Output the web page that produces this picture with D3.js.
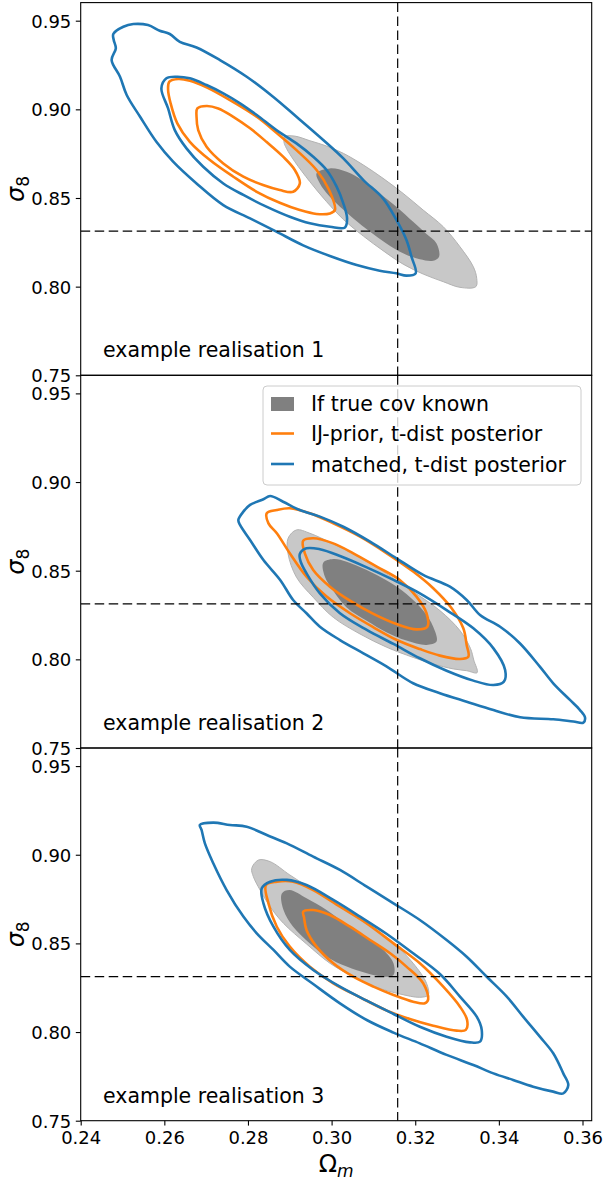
<!DOCTYPE html>
<html><head><meta charset="utf-8">
<script src="https://cdn.jsdelivr.net/npm/d3@7"></script>
<style>body{margin:0;background:#fff;} text{font-family:"DejaVu Sans",sans-serif;fill:#000;}</style>
</head><body><svg id="c" width="604" height="1183"></svg>
<script>
// ---------- data ----------
const xTicks = [0.24, 0.26, 0.28, 0.30, 0.32, 0.34, 0.36];
const yTicks = [0.75, 0.80, 0.85, 0.90, 0.95];
const xDomain = [0.24, 0.3622];
const yDomain = [0.75, 0.9602];
const omegaTrue = 0.3158;
const sigma8True = 0.8313;
const panelLabels = ["example realisation 1", "example realisation 2", "example realisation 3"];
const legendLabels = ["If true cov known", "IJ-prior, t-dist posterior", "matched, t-dist posterior"];

// realisation 1
const known95_1 = [[0.2888,0.8846],[0.2912,0.8849],[0.2948,0.8823],[0.2988,0.8793],[0.3028,0.8752],[0.3076,0.8686],[0.3123,0.8611],[0.3171,0.8526],[0.3219,0.8432],[0.3267,0.8338],[0.3307,0.8225],[0.3339,0.8112],[0.3347,0.8047],[0.3345,0.8000],[0.3307,0.7996],[0.3267,0.8028],[0.3219,0.8071],[0.3171,0.8127],[0.3123,0.8203],[0.3076,0.8285],[0.3028,0.8379],[0.2988,0.8479],[0.2948,0.8592],[0.2912,0.8705],[0.2892,0.8780],[0.2886,0.8817]];
const known68_1 = [[0.2964,0.8639],[0.2996,0.8667],[0.3036,0.8648],[0.3076,0.8597],[0.3115,0.8526],[0.3155,0.8451],[0.3195,0.8366],[0.3227,0.8297],[0.3251,0.8244],[0.3257,0.8169],[0.3243,0.8146],[0.3211,0.8154],[0.3171,0.8188],[0.3131,0.8244],[0.3092,0.8310],[0.3052,0.8385],[0.3020,0.8451],[0.2992,0.8517],[0.2972,0.8582]];
const ij95_1 = [[0.2612,0.9156],[0.2633,0.9171],[0.2661,0.9161],[0.2701,0.9124],[0.2757,0.9052],[0.2821,0.8958],[0.2868,0.8868],[0.2916,0.8770],[0.2964,0.8658],[0.2994,0.8545],[0.3008,0.8432],[0.2996,0.8413],[0.2964,0.8410],[0.2924,0.8432],[0.2876,0.8473],[0.2821,0.8535],[0.2765,0.8620],[0.2709,0.8714],[0.2661,0.8817],[0.2631,0.8921],[0.2615,0.9034],[0.2609,0.9109]];
const ij68_1 = [[0.2679,0.9005],[0.2701,0.9019],[0.2729,0.9005],[0.2765,0.8958],[0.2805,0.8893],[0.2844,0.8817],[0.2884,0.8733],[0.2912,0.8658],[0.2924,0.8582],[0.2908,0.8535],[0.2876,0.8545],[0.2836,0.8573],[0.2789,0.8620],[0.2741,0.8695],[0.2701,0.8789],[0.2681,0.8883],[0.2677,0.8958]];
const matched95_1 = [[0.2478,0.9425],[0.2502,0.9466],[0.2526,0.9481],[0.2561,0.9475],[0.2589,0.9443],[0.2613,0.9425],[0.2637,0.9381],[0.2677,0.9349],[0.2733,0.9278],[0.2797,0.9184],[0.2860,0.9071],[0.2916,0.8958],[0.2980,0.8827],[0.3028,0.8723],[0.3076,0.8601],[0.3123,0.8498],[0.3155,0.8376],[0.3179,0.8263],[0.3191,0.8169],[0.3201,0.8075],[0.3179,0.8062],[0.3155,0.8075],[0.3115,0.8090],[0.3060,0.8122],[0.2996,0.8173],[0.2932,0.8233],[0.2868,0.8310],[0.2805,0.8385],[0.2741,0.8460],[0.2677,0.8582],[0.2621,0.8705],[0.2581,0.8817],[0.2542,0.8958],[0.2510,0.9081],[0.2494,0.9184],[0.2474,0.9278],[0.2484,0.9344],[0.2479,0.9391]];
const matched68_1 = [[0.2605,0.9175],[0.2629,0.9184],[0.2661,0.9175],[0.2701,0.9137],[0.2741,0.9090],[0.2781,0.9034],[0.2821,0.8968],[0.2868,0.8883],[0.2916,0.8808],[0.2956,0.8733],[0.2988,0.8658],[0.3012,0.8564],[0.3028,0.8470],[0.3037,0.8385],[0.3032,0.8334],[0.2996,0.8338],[0.2948,0.8357],[0.2900,0.8394],[0.2844,0.8451],[0.2789,0.8517],[0.2741,0.8582],[0.2693,0.8676],[0.2653,0.8780],[0.2625,0.8883],[0.2609,0.9005],[0.2593,0.9118]];

// realisation 2
const known95_2 = [[0.2896,0.8683],[0.2916,0.8730],[0.2948,0.8711],[0.3004,0.8651],[0.3068,0.8575],[0.3132,0.8482],[0.3195,0.8382],[0.3259,0.8275],[0.3307,0.8162],[0.3332,0.8062],[0.3340,0.7996],[0.3348,0.7925],[0.3323,0.7936],[0.3291,0.7946],[0.3243,0.7974],[0.3195,0.8011],[0.3132,0.8068],[0.3068,0.8143],[0.3004,0.8237],[0.2956,0.8350],[0.2916,0.8463],[0.2896,0.8594]];
const known68_2 = [[0.2980,0.8545],[0.3004,0.8566],[0.3036,0.8551],[0.3084,0.8504],[0.3132,0.8444],[0.3179,0.8369],[0.3219,0.8275],[0.3243,0.8184],[0.3251,0.8100],[0.3227,0.8081],[0.3179,0.8106],[0.3132,0.8152],[0.3084,0.8218],[0.3036,0.8293],[0.3004,0.8387],[0.2984,0.8466]];
const ij95_2 = [[0.2845,0.8824],[0.2869,0.8842],[0.2900,0.8852],[0.2948,0.8824],[0.3004,0.8767],[0.3068,0.8692],[0.3132,0.8598],[0.3195,0.8495],[0.3243,0.8401],[0.3287,0.8288],[0.3315,0.8175],[0.3323,0.8081],[0.3327,0.8015],[0.3307,0.8002],[0.3259,0.8021],[0.3211,0.8058],[0.3156,0.8109],[0.3100,0.8181],[0.3044,0.8260],[0.2988,0.8354],[0.2940,0.8466],[0.2900,0.8598],[0.2869,0.8711],[0.2849,0.8767]];
const ij68_2 = [[0.2932,0.8669],[0.2956,0.8683],[0.3004,0.8654],[0.3052,0.8598],[0.3108,0.8523],[0.3163,0.8448],[0.3203,0.8354],[0.3227,0.8260],[0.3229,0.8184],[0.3203,0.8169],[0.3155,0.8199],[0.3100,0.8256],[0.3044,0.8331],[0.2996,0.8410],[0.2956,0.8504],[0.2936,0.8598]];
const matched95_2 = [[0.2777,0.8786],[0.2789,0.8833],[0.2805,0.8871],[0.2837,0.8903],[0.2853,0.8921],[0.2884,0.8889],[0.2924,0.8842],[0.2972,0.8805],[0.3028,0.8748],[0.3092,0.8664],[0.3155,0.8570],[0.3219,0.8476],[0.3283,0.8410],[0.3323,0.8335],[0.3355,0.8250],[0.3403,0.8184],[0.3450,0.8091],[0.3498,0.7959],[0.3530,0.7865],[0.3570,0.7771],[0.3594,0.7714],[0.3606,0.7673],[0.3602,0.7643],[0.3578,0.7649],[0.3530,0.7662],[0.3451,0.7673],[0.3387,0.7714],[0.3323,0.7761],[0.3259,0.7809],[0.3195,0.7865],[0.3132,0.7959],[0.3076,0.8034],[0.3020,0.8109],[0.2972,0.8184],[0.2940,0.8260],[0.2908,0.8335],[0.2877,0.8448],[0.2837,0.8560],[0.2805,0.8673],[0.2781,0.8758]];
const matched68_2 = [[0.2924,0.8594],[0.2940,0.8626],[0.2972,0.8621],[0.3020,0.8583],[0.3084,0.8519],[0.3148,0.8448],[0.3211,0.8372],[0.3275,0.8278],[0.3339,0.8175],[0.3387,0.8062],[0.3415,0.7940],[0.3412,0.7874],[0.3387,0.7855],[0.3339,0.7880],[0.3275,0.7936],[0.3211,0.8006],[0.3148,0.8087],[0.3084,0.8166],[0.3020,0.8260],[0.2972,0.8372],[0.2940,0.8485],[0.2926,0.8551]];

// realisation 3
const known95_3 = [[0.2809,0.8923],[0.2825,0.8970],[0.2853,0.8961],[0.2900,0.8886],[0.2956,0.8801],[0.3020,0.8707],[0.3084,0.8609],[0.3148,0.8500],[0.3195,0.8388],[0.3227,0.8275],[0.3231,0.8209],[0.3211,0.8196],[0.3163,0.8215],[0.3108,0.8252],[0.3052,0.8312],[0.2996,0.8388],[0.2940,0.8497],[0.2885,0.8613],[0.2853,0.8707],[0.2829,0.8801],[0.2813,0.8876]];
const known68_3 = [[0.2881,0.8782],[0.2900,0.8801],[0.2940,0.8754],[0.2988,0.8688],[0.3036,0.8604],[0.3084,0.8529],[0.3124,0.8463],[0.3148,0.8388],[0.3148,0.8322],[0.3124,0.8312],[0.3084,0.8331],[0.3036,0.8369],[0.2988,0.8425],[0.2948,0.8500],[0.2908,0.8594],[0.2885,0.8688]];
const ij95_3 = [[0.2843,0.8829],[0.2869,0.8848],[0.2908,0.8848],[0.2956,0.8801],[0.3020,0.8707],[0.3084,0.8613],[0.3148,0.8500],[0.3211,0.8388],[0.3267,0.8256],[0.3307,0.8143],[0.3324,0.8068],[0.3321,0.8012],[0.3299,0.8008],[0.3243,0.8036],[0.3187,0.8074],[0.3132,0.8121],[0.3068,0.8196],[0.3004,0.8275],[0.2948,0.8369],[0.2900,0.8482],[0.2869,0.8594],[0.2849,0.8726]];
const ij68_3 = [[0.2932,0.8679],[0.2956,0.8688],[0.2996,0.8660],[0.3044,0.8594],[0.3092,0.8519],[0.3140,0.8444],[0.3179,0.8369],[0.3219,0.8275],[0.3231,0.8185],[0.3223,0.8162],[0.3195,0.8171],[0.3148,0.8209],[0.3100,0.8256],[0.3052,0.8312],[0.3004,0.8388],[0.2964,0.8482],[0.2940,0.8576],[0.2934,0.8647]];
const matched95_3 = [[0.2685,0.9168],[0.2717,0.9181],[0.2757,0.9168],[0.2797,0.9158],[0.2845,0.9111],[0.2893,0.9064],[0.2956,0.8989],[0.3020,0.8914],[0.3084,0.8820],[0.3148,0.8726],[0.3211,0.8632],[0.3275,0.8519],[0.3323,0.8425],[0.3371,0.8312],[0.3419,0.8200],[0.3458,0.8087],[0.3498,0.7974],[0.3530,0.7880],[0.3554,0.7767],[0.3566,0.7701],[0.3554,0.7654],[0.3530,0.7664],[0.3482,0.7692],[0.3434,0.7730],[0.3387,0.7767],[0.3339,0.7814],[0.3275,0.7871],[0.3211,0.7936],[0.3148,0.7997],[0.3084,0.8068],[0.3020,0.8162],[0.2956,0.8271],[0.2900,0.8369],[0.2861,0.8463],[0.2821,0.8557],[0.2789,0.8651],[0.2749,0.8801],[0.2717,0.8952],[0.2697,0.9064],[0.2689,0.9140]];
const matched68_3 = [[0.2833,0.8811],[0.2853,0.8848],[0.2893,0.8858],[0.2940,0.8829],[0.3004,0.8745],[0.3068,0.8651],[0.3132,0.8553],[0.3195,0.8444],[0.3259,0.8327],[0.3307,0.8200],[0.3347,0.8087],[0.3359,0.8012],[0.3355,0.7946],[0.3331,0.7942],[0.3275,0.7974],[0.3211,0.8030],[0.3148,0.8102],[0.3084,0.8177],[0.3020,0.8256],[0.2956,0.8350],[0.2900,0.8463],[0.2861,0.8594],[0.2837,0.8726]];

// ---------- layout ----------
const colors = {known95:"#c8c8c8", known95Edge:"#b2b2b2", known68:"#808080", ij:"#ff7f0e", matched:"#1f77b4"};
const left = 80.7, right = 591.7;
const panelTops = [2.6, 375.3, 748.0];
const panelH = 372.7;

const panels = [
  {label: panelLabels[0], k95: known95_1, k68: known68_1, ij: [ij95_1, ij68_1], m: [matched95_1, matched68_1]},
  {label: panelLabels[1], k95: known95_2, k68: known68_2, ij: [ij95_2, ij68_2], m: [matched95_2, matched68_2]},
  {label: panelLabels[2], k95: known95_3, k68: known68_3, ij: [ij95_3, ij68_3], m: [matched95_3, matched68_3]}
];

const svg = d3.select("#c");
const x = d3.scaleLinear().domain(xDomain).range([left, right]);

panels.forEach((p, i) => {
  const top = panelTops[i];
  const y = d3.scaleLinear().domain(yDomain).range([top + panelH, top]);
  const g = svg.append("g");
  const clipId = "clip" + i;
  svg.append("clipPath").attr("id", clipId).append("rect")
    .attr("x", left).attr("y", top).attr("width", right - left).attr("height", panelH);
  const plot = g.append("g").attr("clip-path", `url(#${clipId})`);
  const line = d3.line().x(d => x(d[0])).y(d => y(d[1])).curve(d3.curveCatmullRomClosed.alpha(0.5));

  plot.append("path").attr("d", line(p.k95)).attr("fill", colors.known95).attr("stroke", colors.known95Edge).attr("stroke-width", 1);
  plot.append("path").attr("d", line(p.k68)).attr("fill", colors.known68).attr("stroke", "none");
  p.ij.forEach(c => plot.append("path").attr("d", line(c)).attr("fill", "none").attr("stroke", colors.ij).attr("stroke-width", 2.6).attr("stroke-linejoin", "round"));
  p.m.forEach(c => plot.append("path").attr("d", line(c)).attr("fill", "none").attr("stroke", colors.matched).attr("stroke-width", 2.6).attr("stroke-linejoin", "round"));

  // truth lines
  plot.append("line").attr("x1", x(omegaTrue)).attr("x2", x(omegaTrue)).attr("y1", top).attr("y2", top + panelH)
    .attr("stroke", "#000").attr("stroke-width", 1.2).attr("stroke-dasharray", "9.5,4.5");
  plot.append("line").attr("x1", left).attr("x2", right).attr("y1", y(sigma8True)).attr("y2", y(sigma8True))
    .attr("stroke", "#000").attr("stroke-width", 1.2).attr("stroke-dasharray", "9.5,4.5");

  // y axis
  const ya = d3.axisLeft(y).tickValues(yTicks).tickFormat(d3.format(".2f")).tickSize(4.9).tickPadding(4.5);
  const yg = g.append("g").attr("transform", `translate(${left},0)`).call(ya);
  yg.select(".domain").remove();
  yg.selectAll("text").attr("font-size", 18).attr("font-family", "DejaVu Sans").attr("dy", "0.36em").attr("fill", "#000");
  yg.selectAll("line").attr("stroke", "#000").attr("stroke-width", 1.1);

  // frame
  g.append("rect").attr("x", left).attr("y", top).attr("width", right - left).attr("height", panelH)
    .attr("fill", "none").attr("stroke", "#000").attr("stroke-width", 1.1);

  // label
  g.append("text").attr("x", 103).attr("y", top + panelH - 18).attr("font-size", 20.5).text(p.label);

  // y label
  const cy = top + panelH / 2;
  const yl = g.append("text").attr("transform", `translate(24,${cy}) rotate(-90)`).attr("text-anchor", "middle").attr("font-size", 24);
  yl.append("tspan").attr("font-style", "italic").text("σ");
  yl.append("tspan").attr("font-size", 17).attr("dy", 5).text("8");

  if (i === panels.length - 1) {
    const xa = d3.axisBottom(x).tickValues(xTicks).tickFormat(d3.format(".2f")).tickSize(4.9).tickPadding(4.5);
    const xg = g.append("g").attr("transform", `translate(0,${top + panelH})`).call(xa);
    xg.select(".domain").remove();
    xg.selectAll("text").attr("font-size", 18).attr("font-family", "DejaVu Sans").attr("fill", "#000").attr("dy", "0.78em");
    xg.selectAll("line").attr("stroke", "#000").attr("stroke-width", 1.1);
    const xl = g.append("text").attr("x", (left + right) / 2).attr("y", 1172).attr("text-anchor", "middle").attr("font-size", 24);
    xl.append("tspan").text("Ω");
    xl.append("tspan").attr("font-style", "italic").attr("font-size", 17).attr("dy", 5).text("m");
  }

  if (i === 1) {
    const lg = g.append("g");
    lg.append("rect").attr("x", 263).attr("y", 386).attr("width", 318).attr("height", 99).attr("rx", 4)
      .attr("fill", "#fff").attr("fill-opacity", 0.8).attr("stroke", "#cccccc").attr("stroke-width", 1);
    lg.append("rect").attr("x", 271).attr("y", 397).attr("width", 23).attr("height", 14).attr("fill", colors.known68);
    lg.append("line").attr("x1", 271).attr("x2", 294).attr("y1", 433.5).attr("y2", 433.5).attr("stroke", colors.ij).attr("stroke-width", 2.6);
    lg.append("line").attr("x1", 271).attr("x2", 294).attr("y1", 464).attr("y2", 464).attr("stroke", colors.matched).attr("stroke-width", 2.6);
    const ys = [410.5, 441, 471.5];
    legendLabels.forEach((t, j) => lg.append("text").attr("x", 311).attr("y", ys[j]).attr("font-size", 20.5).text(t));
  }
});
</script></body></html>
